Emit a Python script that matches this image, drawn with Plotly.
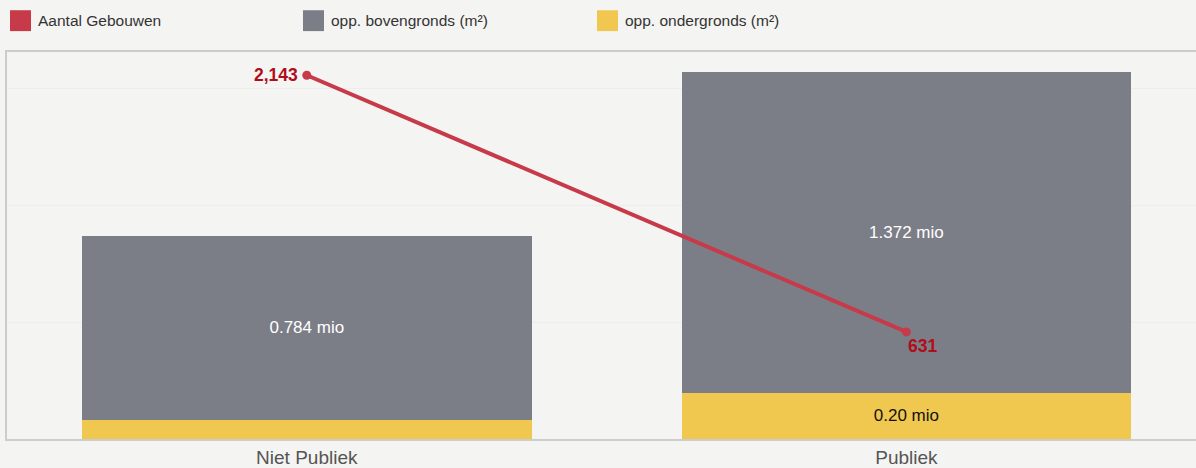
import plotly.graph_objects as go

categories = ["Niet Publiek", "Publiek"]
boven = [0.784, 1.372]          # mio m²
onder = [0.083, 0.197]          # mio m²
gebouwen = [2143, 631]

series_names = ["Aantal Gebouwen", "opp. bovengronds (m²)", "opp. ondergronds (m²)"]
colors = ["#c63a4a", "#7c7e87", "#f1c84f"]

bg = "#f4f4f2"
font_family = "Liberation Sans, Arial, sans-serif"

boven_text = [f"{v:.3f} mio" for v in boven]
onder_text = ["" if v < 0.1 else f"{v:.2f} mio" for v in onder]

fig = go.Figure()
fig.add_trace(go.Bar(
    x=categories, y=onder, name=series_names[2], marker=dict(color=colors[2], line=dict(width=0)),
    text=onder_text, textposition="inside", insidetextanchor="middle",
    textfont=dict(color="#111111", size=17, family=font_family), width=0.75,
    hoverinfo="skip",
))
fig.add_trace(go.Bar(
    x=categories, y=boven, name=series_names[1], marker=dict(color=colors[1], line=dict(width=0)),
    text=boven_text, textposition="inside", insidetextanchor="middle",
    textfont=dict(color="#ffffff", size=17, family=font_family), width=0.75,
    hoverinfo="skip",
))
fig.add_trace(go.Scatter(
    x=categories, y=gebouwen, name=series_names[0], yaxis="y2", mode="lines+markers",
    line=dict(color=colors[0], width=4), marker=dict(color=colors[0], size=9),
    cliponaxis=False, hoverinfo="skip",
))

W, H = 1196, 468
ml, mr, mt, mb = 7, 0, 52, 27
pw, ph = W - ml - mr, H - mt - mb

annotations = []
# line value labels anchored at the data points
label_style = [dict(xanchor="right", yanchor="middle", xshift=-7, yshift=0),
               dict(xanchor="left", yanchor="middle", xshift=0, yshift=-14)]
for cat, val, st in zip(categories, gebouwen, label_style):
    annotations.append(dict(text=f"<b>{val:,}</b>", x=cat, y=val, xref="x", yref="y2",
                            showarrow=False,
                            font=dict(color="#b00d1b", size=17.5, family=font_family), **st))

# manual legend
legend_x = [10, 303, 597]
shapes = []
for i, xpos in enumerate(legend_x):
    shapes.append(dict(type="rect", xref="paper", yref="paper",
                       x0=(xpos - ml) / pw, x1=(xpos + 21 - ml) / pw,
                       y0=(H - mb - 31) / ph, y1=(H - mb - 10) / ph,
                       fillcolor=colors[i], line=dict(width=0), layer="above"))
    annotations.append(dict(text=series_names[i], xref="paper", yref="paper",
                            x=(xpos + 26 - ml) / pw, y=(H - mb - 20.5) / ph,
                            xanchor="left", yanchor="middle", showarrow=False,
                            font=dict(size=15.5, color="#333333", family=font_family)))

fig.update_layout(
    width=W, height=H,
    margin=dict(l=ml, r=mr, t=mt, b=mb),
    paper_bgcolor=bg, plot_bgcolor=bg,
    barmode="stack", showlegend=False,
    font=dict(family=font_family),
    xaxis=dict(range=[-0.5, 1.483], showgrid=False, showline=True, mirror=True,
               linecolor="#cccccc", linewidth=1.5, ticks="",
               tickfont=dict(size=19, color="#555555", family=font_family)),
    yaxis=dict(range=[0, 1.654], dtick=0.5, showgrid=True, gridcolor="#ededeb", gridwidth=1,
               showticklabels=False, zeroline=False, showline=True, linecolor="#cccccc", linewidth=1.5),
    yaxis2=dict(range=[0, 2280], overlaying="y", side="right", showgrid=False,
                showticklabels=False, zeroline=False, showline=False),
    shapes=shapes, annotations=annotations,
)

fig.write_html("out.html", config={"displayModeBar": False},
               post_script="document.body.style.margin='0';document.body.style.overflow='hidden';")
